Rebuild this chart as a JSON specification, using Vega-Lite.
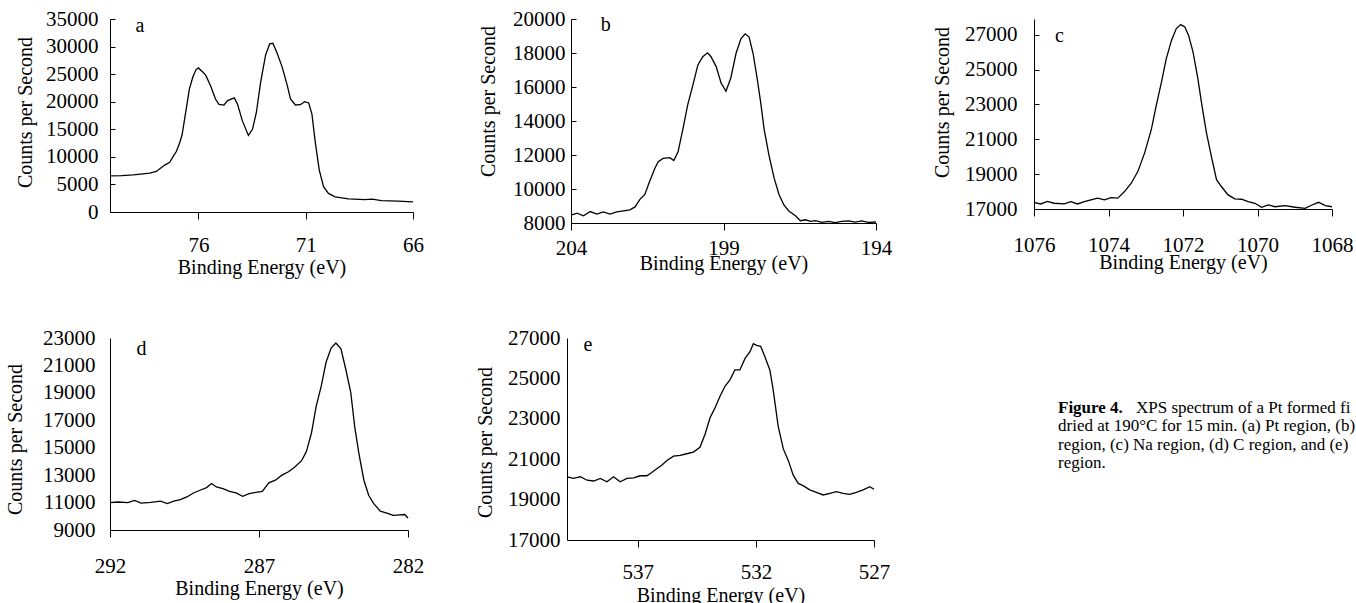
{
  "$schema": "https://vega.github.io/schema/vega-lite/v6.json",
  "background": "white",
  "padding": {"left": 5, "top": 8, "right": 0, "bottom": 0},
  "config": {
    "view": {"stroke": null},
    "font": "Liberation Serif",
    "axis": {
      "domainColor": "#000", "tickColor": "#000", "labelColor": "#000", "titleColor": "#000",
      "labelFont": "Liberation Serif", "titleFont": "Liberation Serif",
      "labelFontSize": 21, "titleFontSize": 20, "titleFontWeight": "normal",
      "grid": false, "labelFlush": false, "labelOverlap": false, "domainWidth": 1, "tickWidth": 1
    },
    "line": {"color": "#000", "strokeWidth": 1.3},
    "text": {"font": "Liberation Serif", "color": "#000", "fontSize": 20}
  },
  "datasets": {
    "a": [
      {"be": 80.12, "cps": 6550}, {"be": 79.58, "cps": 6610}, {"be": 79.04, "cps": 6730}, {"be": 78.58, "cps": 6915},
      {"be": 78.27, "cps": 7040}, {"be": 77.96, "cps": 7350}, {"be": 77.57, "cps": 8510}, {"be": 77.34, "cps": 9000},
      {"be": 77.18, "cps": 10040}, {"be": 77.03, "cps": 10960}, {"be": 76.88, "cps": 12480}, {"be": 76.76, "cps": 14000},
      {"be": 76.57, "cps": 18670}, {"be": 76.42, "cps": 22340}, {"be": 76.26, "cps": 24480}, {"be": 76.11, "cps": 25830},
      {"be": 76.0, "cps": 26130}, {"be": 75.8, "cps": 25400}, {"be": 75.65, "cps": 24720}, {"be": 75.42, "cps": 22760},
      {"be": 75.2, "cps": 20440}, {"be": 75.04, "cps": 19520}, {"be": 74.81, "cps": 19400}, {"be": 74.64, "cps": 20200},
      {"be": 74.33, "cps": 20690}, {"be": 74.18, "cps": 19580}, {"be": 73.95, "cps": 16520}, {"be": 73.67, "cps": 13890},
      {"be": 73.48, "cps": 14990}, {"be": 73.3, "cps": 18050}, {"be": 73.1, "cps": 23560}, {"be": 72.87, "cps": 28460},
      {"be": 72.68, "cps": 30480}, {"be": 72.53, "cps": 30600}, {"be": 72.33, "cps": 28770}, {"be": 72.1, "cps": 26320},
      {"be": 71.86, "cps": 22950}, {"be": 71.71, "cps": 20500}, {"be": 71.48, "cps": 19400}, {"be": 71.25, "cps": 19460},
      {"be": 71.05, "cps": 20010}, {"be": 70.86, "cps": 19770}, {"be": 70.71, "cps": 17750}, {"be": 70.55, "cps": 12550},
      {"be": 70.37, "cps": 7650}, {"be": 70.17, "cps": 4590}, {"be": 69.94, "cps": 3370}, {"be": 69.63, "cps": 2750},
      {"be": 69.01, "cps": 2390}, {"be": 68.24, "cps": 2260}, {"be": 67.9, "cps": 2330}, {"be": 67.47, "cps": 2080},
      {"be": 66.7, "cps": 1960}, {"be": 66.0, "cps": 1840}
    ],
    "b": [
      {"be": 204.0, "cps": 8463}, {"be": 203.8, "cps": 8580}, {"be": 203.59, "cps": 8424}, {"be": 203.37, "cps": 8675},
      {"be": 203.15, "cps": 8520}, {"be": 202.94, "cps": 8656}, {"be": 202.72, "cps": 8520}, {"be": 202.5, "cps": 8656},
      {"be": 202.28, "cps": 8713}, {"be": 202.07, "cps": 8770}, {"be": 201.9, "cps": 8945}, {"be": 201.74, "cps": 9390},
      {"be": 201.58, "cps": 9680}, {"be": 201.42, "cps": 10450}, {"be": 201.25, "cps": 11220}, {"be": 201.14, "cps": 11610},
      {"be": 200.98, "cps": 11800}, {"be": 200.76, "cps": 11840}, {"be": 200.63, "cps": 11680}, {"be": 200.49, "cps": 12190},
      {"be": 200.33, "cps": 13540}, {"be": 200.17, "cps": 14980}, {"be": 200.0, "cps": 16140}, {"be": 199.84, "cps": 17300},
      {"be": 199.68, "cps": 17780}, {"be": 199.52, "cps": 18010}, {"be": 199.41, "cps": 17780}, {"be": 199.24, "cps": 17200},
      {"be": 199.08, "cps": 16240}, {"be": 198.92, "cps": 15750}, {"be": 198.76, "cps": 16530}, {"be": 198.59, "cps": 17970},
      {"be": 198.43, "cps": 18840}, {"be": 198.29, "cps": 19130}, {"be": 198.16, "cps": 18940}, {"be": 198.03, "cps": 17970},
      {"be": 197.89, "cps": 16430}, {"be": 197.78, "cps": 15080}, {"be": 197.67, "cps": 13540}, {"be": 197.51, "cps": 11990},
      {"be": 197.34, "cps": 10640}, {"be": 197.18, "cps": 9680}, {"be": 197.02, "cps": 9060}, {"be": 196.86, "cps": 8710},
      {"be": 196.64, "cps": 8424}, {"be": 196.48, "cps": 8135}, {"be": 196.31, "cps": 8190}, {"be": 196.15, "cps": 8096},
      {"be": 195.99, "cps": 8135}, {"be": 195.77, "cps": 8040}, {"be": 195.55, "cps": 8100}, {"be": 195.34, "cps": 8020},
      {"be": 195.12, "cps": 8090}, {"be": 194.9, "cps": 8130}, {"be": 194.68, "cps": 8050}, {"be": 194.47, "cps": 8120},
      {"be": 194.25, "cps": 8040}, {"be": 194.0, "cps": 8060}
    ],
    "c": [
      {"be": 1076.0, "cps": 17385}, {"be": 1075.82, "cps": 17290}, {"be": 1075.64, "cps": 17440}, {"be": 1075.46, "cps": 17330},
      {"be": 1075.19, "cps": 17290}, {"be": 1075.01, "cps": 17420}, {"be": 1074.83, "cps": 17290}, {"be": 1074.65, "cps": 17420},
      {"be": 1074.47, "cps": 17520}, {"be": 1074.29, "cps": 17620}, {"be": 1074.11, "cps": 17520}, {"be": 1073.93, "cps": 17650},
      {"be": 1073.75, "cps": 17620}, {"be": 1073.57, "cps": 18000}, {"be": 1073.39, "cps": 18480}, {"be": 1073.21, "cps": 19160},
      {"be": 1073.03, "cps": 20220}, {"be": 1072.85, "cps": 21570}, {"be": 1072.72, "cps": 22920}, {"be": 1072.58, "cps": 24260},
      {"be": 1072.45, "cps": 25610}, {"be": 1072.31, "cps": 26670}, {"be": 1072.18, "cps": 27350}, {"be": 1072.06, "cps": 27580},
      {"be": 1071.95, "cps": 27440}, {"be": 1071.85, "cps": 26960}, {"be": 1071.73, "cps": 26000}, {"be": 1071.6, "cps": 24460},
      {"be": 1071.49, "cps": 22920}, {"be": 1071.37, "cps": 21370}, {"be": 1071.24, "cps": 20030}, {"be": 1071.1, "cps": 18680},
      {"be": 1070.97, "cps": 18290}, {"be": 1070.79, "cps": 17810}, {"be": 1070.61, "cps": 17580}, {"be": 1070.43, "cps": 17560},
      {"be": 1070.25, "cps": 17420}, {"be": 1070.07, "cps": 17330}, {"be": 1069.89, "cps": 17100}, {"be": 1069.71, "cps": 17230},
      {"be": 1069.53, "cps": 17130}, {"be": 1069.26, "cps": 17190}, {"be": 1068.99, "cps": 17100}, {"be": 1068.72, "cps": 17040},
      {"be": 1068.54, "cps": 17230}, {"be": 1068.36, "cps": 17385}, {"be": 1068.18, "cps": 17190}, {"be": 1068.0, "cps": 17130}
    ],
    "d": [
      {"be": 292.0, "cps": 10990}, {"be": 291.73, "cps": 11040}, {"be": 291.4, "cps": 10990}, {"be": 291.18, "cps": 11160},
      {"be": 290.96, "cps": 10960}, {"be": 290.63, "cps": 11010}, {"be": 290.3, "cps": 11110}, {"be": 290.08, "cps": 10920},
      {"be": 289.86, "cps": 11110}, {"be": 289.64, "cps": 11210}, {"be": 289.42, "cps": 11410}, {"be": 289.2, "cps": 11700},
      {"be": 288.98, "cps": 11900}, {"be": 288.76, "cps": 12090}, {"be": 288.59, "cps": 12390}, {"be": 288.43, "cps": 12140},
      {"be": 288.21, "cps": 12020}, {"be": 287.99, "cps": 11820}, {"be": 287.77, "cps": 11700}, {"be": 287.55, "cps": 11460},
      {"be": 287.33, "cps": 11650}, {"be": 287.11, "cps": 11750}, {"be": 286.89, "cps": 11820}, {"be": 286.67, "cps": 12440},
      {"be": 286.45, "cps": 12630}, {"be": 286.23, "cps": 13000}, {"be": 286.01, "cps": 13250}, {"be": 285.79, "cps": 13620},
      {"be": 285.57, "cps": 14060}, {"be": 285.41, "cps": 14720}, {"be": 285.24, "cps": 16070}, {"be": 285.08, "cps": 18040},
      {"be": 284.91, "cps": 19510}, {"be": 284.75, "cps": 21230}, {"be": 284.58, "cps": 22260}, {"be": 284.42, "cps": 22630},
      {"be": 284.25, "cps": 22210}, {"be": 284.09, "cps": 20740}, {"be": 283.92, "cps": 19020}, {"be": 283.79, "cps": 16560},
      {"be": 283.65, "cps": 14600}, {"be": 283.48, "cps": 12630}, {"be": 283.32, "cps": 11530}, {"be": 283.15, "cps": 10920},
      {"be": 282.93, "cps": 10380}, {"be": 282.71, "cps": 10230}, {"be": 282.49, "cps": 10060}, {"be": 282.27, "cps": 10110},
      {"be": 282.11, "cps": 10130}, {"be": 282.0, "cps": 9880}
    ],
    "e": [
      {"be": 540.0, "cps": 20130}, {"be": 539.72, "cps": 20050}, {"be": 539.44, "cps": 20130}, {"be": 539.15, "cps": 19960},
      {"be": 538.87, "cps": 19920}, {"be": 538.59, "cps": 20050}, {"be": 538.31, "cps": 19880}, {"be": 538.03, "cps": 20130},
      {"be": 537.75, "cps": 19880}, {"be": 537.46, "cps": 20050}, {"be": 537.18, "cps": 20080}, {"be": 536.9, "cps": 20180},
      {"be": 536.62, "cps": 20180}, {"be": 536.41, "cps": 20340}, {"be": 536.2, "cps": 20530}, {"be": 535.99, "cps": 20700},
      {"be": 535.77, "cps": 20940}, {"be": 535.49, "cps": 21150}, {"be": 535.21, "cps": 21190}, {"be": 534.93, "cps": 21270},
      {"be": 534.65, "cps": 21350}, {"be": 534.37, "cps": 21590}, {"be": 534.15, "cps": 22250}, {"be": 533.94, "cps": 23060},
      {"be": 533.73, "cps": 23550}, {"be": 533.52, "cps": 24120}, {"be": 533.31, "cps": 24610}, {"be": 533.1, "cps": 24930},
      {"be": 532.89, "cps": 25420}, {"be": 532.68, "cps": 25420}, {"be": 532.46, "cps": 25990}, {"be": 532.25, "cps": 26320},
      {"be": 532.11, "cps": 26720}, {"be": 531.97, "cps": 26640}, {"be": 531.8, "cps": 26590}, {"be": 531.62, "cps": 26070},
      {"be": 531.41, "cps": 25420}, {"be": 531.27, "cps": 24440}, {"be": 531.06, "cps": 22650}, {"be": 530.84, "cps": 21510},
      {"be": 530.63, "cps": 20940}, {"be": 530.42, "cps": 20210}, {"be": 530.21, "cps": 19800}, {"be": 530.0, "cps": 19690},
      {"be": 529.72, "cps": 19480}, {"be": 529.44, "cps": 19360}, {"be": 529.15, "cps": 19230}, {"be": 528.87, "cps": 19310},
      {"be": 528.59, "cps": 19390}, {"be": 528.31, "cps": 19310}, {"be": 528.03, "cps": 19260}, {"be": 527.75, "cps": 19360},
      {"be": 527.46, "cps": 19480}, {"be": 527.18, "cps": 19640}, {"be": 527.0, "cps": 19510}
    ]
  },
  "spacing": 50,
  "vconcat": [
    {
      "spacing": 158,
      "bounds": "flush",
      "hconcat": [
        {
          "width": 303, "height": 193,
          "encoding": {
            "x": {"field": "be", "type": "quantitative",
              "scale": {"domain": [66, 80.12], "reverse": true, "nice": false, "zero": false},
              "axis": {"title": "Binding Energy (eV)", "values": [76, 71, 66], "format": "d", "tickSize": 7, "labelPadding": 15, "titlePadding": 2}},
            "y": {"field": "cps", "type": "quantitative",
              "scale": {"domain": [0, 35000], "nice": false},
              "axis": {"title": "Counts per Second", "values": [0, 5000, 10000, 15000, 20000, 25000, 30000, 35000], "format": "d", "tickSize": -5, "labelPadding": 17, "titlePadding": 10, "titleY": 93}}
          },
          "layer": [
            {"data": {"name": "a"}, "mark": {"type": "line"}},
            {"data": {"values": [{"be": 78.73, "cps": 33710, "label": "a"}]}, "mark": {"type": "text"}, "encoding": {"text": {"field": "label"}}}
          ]
        },
        {
          "width": 305, "height": 204,
          "encoding": {
            "x": {"field": "be", "type": "quantitative",
              "scale": {"domain": [194, 204], "reverse": true, "nice": false, "zero": false},
              "axis": {"title": "Binding Energy (eV)", "values": [204, 199, 194], "format": "d", "tickSize": 7, "labelPadding": 7, "titlePadding": -5}},
            "y": {"field": "cps", "type": "quantitative",
              "scale": {"domain": [8000, 20000], "nice": false, "zero": false},
              "axis": {"title": "Counts per Second", "values": [8000, 10000, 12000, 14000, 16000, 18000, 20000], "format": "d", "tickSize": -5, "labelPadding": 11, "titlePadding": 14, "titleY": 82}}
          },
          "layer": [
            {"data": {"name": "b"}, "mark": {"type": "line"}},
            {"data": {"values": [{"be": 202.86, "cps": 19650, "label": "b"}]}, "mark": {"type": "text"}, "encoding": {"text": {"field": "label"}}}
          ]
        },
        {
          "width": 298, "height": 190,
          "encoding": {
            "x": {"field": "be", "type": "quantitative",
              "scale": {"domain": [1068, 1076], "reverse": true, "nice": false, "zero": false},
              "axis": {"title": "Binding Energy (eV)", "values": [1076, 1074, 1072, 1070, 1068], "format": "d", "tickSize": 7, "labelPadding": 18, "titlePadding": -3}},
            "y": {"field": "cps", "type": "quantitative",
              "scale": {"domain": [17000, 27900], "nice": false, "zero": false},
              "axis": {"title": "Counts per Second", "values": [17000, 19000, 21000, 23000, 25000, 27000], "format": "d", "tickSize": -5, "labelPadding": 22, "titlePadding": 12, "titleY": 83}}
          },
          "layer": [
            {"data": {"name": "c"}, "mark": {"type": "line"}},
            {"data": {"values": [{"be": 1075.32, "cps": 26940, "label": "c"}]}, "mark": {"type": "text"}, "encoding": {"text": {"field": "label"}}}
          ]
        }
      ]
    },
    {
      "spacing": 159,
      "bounds": "flush",
      "hconcat": [
        {
          "width": 298, "height": 192,
          "encoding": {
            "x": {"field": "be", "type": "quantitative",
              "scale": {"domain": [282, 292], "reverse": true, "nice": false, "zero": false},
              "axis": {"title": "Binding Energy (eV)", "values": [292, 287, 282], "format": "d", "tickSize": 7, "labelPadding": 18, "titlePadding": 2}},
            "y": {"field": "cps", "type": "quantitative",
              "scale": {"domain": [9000, 23000], "nice": false, "zero": false},
              "axis": {"title": "Counts per Second", "values": [9000, 11000, 13000, 15000, 17000, 19000, 21000, 23000], "format": "d", "ticks": false, "labelPadding": 15, "titlePadding": 17, "titleY": 101}}
          },
          "layer": [
            {"data": {"name": "d"}, "mark": {"type": "line"}},
            {"data": {"values": [{"be": 290.94, "cps": 22190, "label": "d"}]}, "mark": {"type": "text"}, "encoding": {"text": {"field": "label"}}}
          ]
        },
        {
          "width": 307, "height": 202,
          "encoding": {
            "x": {"field": "be", "type": "quantitative",
              "scale": {"domain": [527, 540], "reverse": true, "nice": false, "zero": false},
              "axis": {"title": "Binding Energy (eV)", "values": [537, 532, 527], "format": "d", "tickSize": 7, "labelPadding": 14, "titlePadding": 3}},
            "y": {"field": "cps", "type": "quantitative",
              "scale": {"domain": [17000, 27000], "nice": false, "zero": false},
              "axis": {"title": "Counts per Second", "values": [17000, 19000, 21000, 23000, 25000, 27000], "format": "d", "ticks": false, "labelPadding": 7, "titlePadding": 12, "titleY": 104}}
          },
          "layer": [
            {"data": {"name": "e"}, "mark": {"type": "line"}},
            {"data": {"values": [{"be": 539.11, "cps": 26660, "label": "e"}]}, "mark": {"type": "text"}, "encoding": {"text": {"field": "label"}}}
          ]
        },
        {
          "width": 300, "height": 195,
          "encoding": {
            "y": {"field": "line", "type": "quantitative", "scale": {"domain": [-2.8, 7.8], "reverse": true, "nice": false, "zero": false}, "axis": null},
            "x": {"value": 0},
            "text": {"field": "part"}
          },
          "layer": [
            {"data": {"values": [{"line": 1, "part": "Figure 4."}]},
             "mark": {"type": "text", "align": "left", "baseline": "middle", "fontSize": 17, "fontWeight": "bold", "dx": 25}},
            {"data": {"values": [{"line": 1, "part": "XPS spectrum of a Pt formed fi"}]},
             "mark": {"type": "text", "align": "left", "baseline": "middle", "fontSize": 17, "dx": 103}},
            {"data": {"values": [
               {"line": 2, "part": "dried at 190°C for 15 min. (a) Pt region, (b)"},
               {"line": 3, "part": "region, (c) Na region, (d) C region, and (e)"},
               {"line": 4, "part": "region."}]},
             "mark": {"type": "text", "align": "left", "baseline": "middle", "fontSize": 17, "dx": 25}}
          ]
        }
      ]
    }
  ]
}
